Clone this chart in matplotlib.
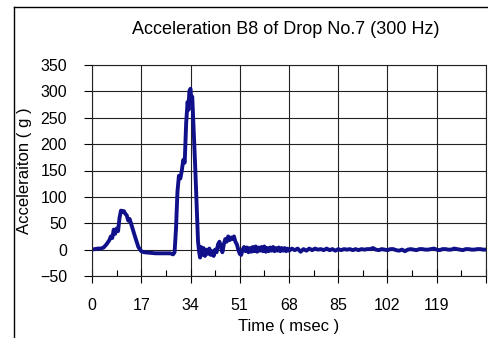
import numpy as np
import matplotlib.pyplot as plt
from matplotlib.lines import Line2D

plt.rcParams['font.family'] = ['Liberation Sans', 'DejaVu Sans']

# Trace (time in msec, acceleration in g)
time_ms = [0, 1, 2, 3, 4, 5, 6, 6.5, 7, 7.5, 8, 8.5, 9, 9.5, 10, 10.5, 11, 11.5,
           12, 12.5, 13, 14, 15, 16, 17, 18, 20, 22, 24, 26, 27, 28, 28.5, 29,
           29.5, 30, 30.5, 31, 31.5, 32, 32.5, 33, 33.3, 33.6, 34, 34.3, 34.6,
           35, 35.3, 35.6, 36, 36.3, 36.6, 37, 37.3, 37.6, 38, 38.5, 39, 39.5,
           40, 40.5, 41, 41.5, 42, 42.5, 43, 43.5, 44, 44.5, 45, 45.5, 46, 46.5,
           47, 47.5, 48, 48.5, 49, 49.5, 50, 50.5, 51, 51.5, 52, 52.5, 53, 53.5,
           54, 54.5, 55, 55.5, 56, 56.5, 57, 57.5, 58, 58.5, 59, 59.5, 60, 60.5,
           61, 61.5, 62, 62.5, 63, 63.5, 64, 64.5, 65, 65.5, 66, 66.5, 67, 67.5,
           68, 69, 70, 71, 72, 73, 74, 75, 76, 77, 78, 79, 80, 81, 82, 83, 84,
           85, 86, 87, 88, 89, 90, 91, 92, 93, 94, 95, 96, 97, 98, 99, 100, 101,
           102, 103, 104, 105, 106, 107, 108, 109, 110, 111, 112, 113, 114, 115,
           116, 117, 118, 119, 120, 121, 122, 123, 124, 125, 126, 127, 128, 129,
           130, 131, 132, 133, 134, 135, 136]
accel_g = [0, 1, 2, 2, 4, 10, 18, 25, 22, 38, 30, 40, 35, 60, 74, 72, 73, 68,
           65, 55, 58, 40, 22, 5, -3, -5, -6, -7, -7, -7, -7, -9, -5, 40,
           110, 140, 135, 150, 170, 165, 240, 280, 265, 300, 305, 280, 290,
           240, 200, 160, 100, 50, 15, -5, -15, 5, -10, 3, -12, 0,
           -8, 2, -10, -3, -12, 0, -5, 10, 15, 5, -5, 10, 20, 15,
           25, 18, 23, 20, 25, 15, 10, 0, -8, -10, 0, 5, -3, 4,
           -5, 3, -4, 5, -3, 6, -4, 4, -2, 5, -3, 6, -4, 3,
           -3, 4, -2, 5, -3, 3, -2, 4, -3, 3, -2, 3, -3, 2,
           -2, 2, -1, 2, -4, 1, -2, 2, -1, 2, 0, 1, -1, 2, -1, 1, -2,
           1, -1, 1, 0, 1, -1, 1, -1, 1, 0, 1, 1, 3, 0, -1, 1, 0,
           -1, 1, 1, -1, -2, 0, -3, 0, 1, 0, -1, 1, 1, 0,
           0, 1, 2, 0, -1, 1, 1, 0, 0, 2, 1, 0, -1, 1,
           1, 0, 0, 1, 1, 0, 0]

xticks = [0, 17, 34, 51, 68, 85, 102, 119, 136]
xtick_labels = ['0', '17', '34', '51', '68', '85', '102', '119', '']
yticks = [-50, 0, 50, 100, 150, 200, 250, 300, 350]

fig = plt.figure(figsize=(4.88, 3.38), dpi=100)
ax = fig.add_axes([92/488, 1 - 276/338, 394/488, 211/338])

ax.plot(time_ms, accel_g, color='#10108a', lw=2.8, solid_joinstyle='round')

ax.set_xlim(0, 136)
ax.set_ylim(-50, 350)
ax.set_xticks(xticks)
ax.set_xticklabels(xtick_labels)
ax.set_xticks(np.arange(8.5, 136, 17), minor=True)
ax.set_yticks(yticks)
ax.grid(True, color='#222222', lw=0.8)

ax.tick_params(axis='x', which='major', direction='inout', length=10, width=0.8,
               pad=11, labelsize=11.5)
ax.tick_params(axis='x', which='minor', direction='in', length=4, width=0.8)
ax.tick_params(axis='y', which='major', direction='out', length=6, width=0.8,
               pad=12, labelsize=11.5)
for s in ax.spines.values():
    s.set_linewidth(0.8)
    s.set_color('#222222')

ax.set_xlabel('Time ( msec )', fontsize=12, labelpad=4)
ax.set_ylabel('Acceleraiton ( g )', fontsize=12, labelpad=6)
fig.text(286/488, 1 - 30/338, 'Acceleration B8 of Drop No.7 (300 Hz)',
         ha='center', va='center', fontsize=13)

# outer chart frame
fig.add_artist(Line2D([14/488, 14/488], [0, 1 - 7/338], color='black', lw=1))
fig.add_artist(Line2D([14/488, 1], [1 - 7/338, 1 - 7/338], color='black', lw=1))

plt.savefig('out.png', dpi=100)
